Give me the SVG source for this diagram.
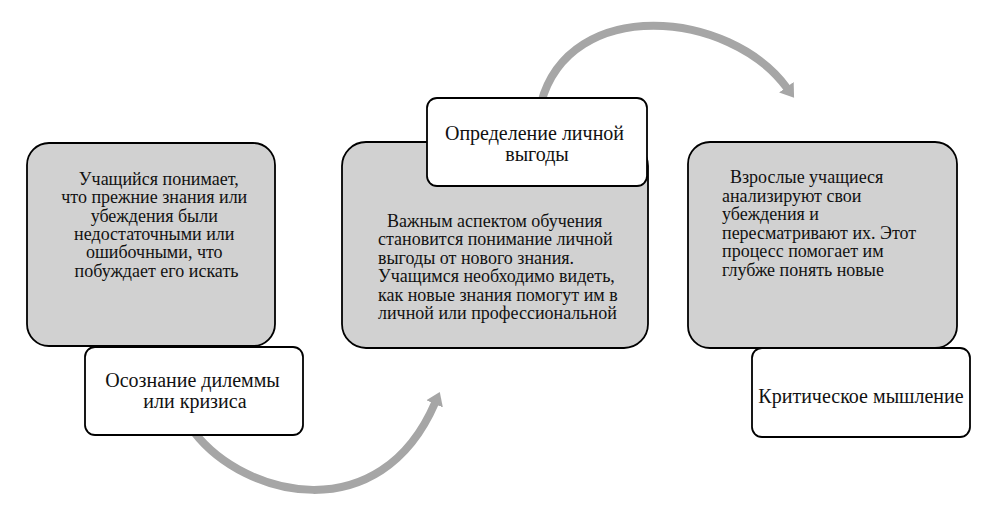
<svg xmlns="http://www.w3.org/2000/svg" width="1004" height="505" viewBox="0 0 1004 505">
  <style>
    .card { fill: #d1d1d1; stroke: #000; stroke-width: 1.8; }
    .label { fill: #fff; stroke: #000; stroke-width: 1.8; }
    .txt { font-family: "Liberation Serif", "Times New Roman", serif; font-size: 18px; fill: #111; }
    .lbl { font-family: "Liberation Serif", "Times New Roman", serif; font-size: 20px; fill: #111; text-anchor: middle; }
    .arrow { fill: none; stroke: #a6a6a6; stroke-width: 8; marker-end: url(#head); }
  </style>
  <defs>
    <marker id="head" markerUnits="userSpaceOnUse" viewBox="0 0 14 20" markerWidth="14" markerHeight="20" refX="1" refY="10" orient="auto">
      <path d="M0,1 L13,10 L0,19 Z" fill="#a6a6a6"/>
    </marker>
  </defs>
  <rect width="1004" height="505" fill="#fff"/>

  <g id="connectors">
    <path class="arrow" d="M194,432 C245,498 380,530 435,403"/>
    <path class="arrow" d="M541,103 C570,-5 730,10 787,88"/>
  </g>

  <g id="node-dilemma">
    <rect class="card" x="27" y="143" width="248" height="203" rx="22"/>
    <text class="txt" text-anchor="middle">
      <tspan x="161" y="185">Учащийся понимает,</tspan>
      <tspan x="156.5" y="203.3">что прежние знания или</tspan>
      <tspan x="156.5" y="221.6">убеждения были</tspan>
      <tspan x="156.5" y="239.9">недостаточными или</tspan>
      <tspan x="156.5" y="258.2">ошибочными, что</tspan>
      <tspan x="156.5" y="276.5">побуждает его искать</tspan>
    </text>
    <rect class="label" x="85" y="347" width="218" height="88" rx="10"/>
    <text class="lbl">
      <tspan x="195" y="387">Осознание дилеммы</tspan>
      <tspan x="195" y="408">или кризиса</tspan>
    </text>
  </g>

  <g id="node-benefit">
    <rect class="card" x="342" y="142" width="306" height="206" rx="24"/>
    <text class="txt">
      <tspan x="387" y="226.5">Важным аспектом обучения</tspan>
      <tspan x="378" y="245">становится понимание личной</tspan>
      <tspan x="378" y="263.5">выгоды от нового знания.</tspan>
      <tspan x="378" y="282">Учащимся необходимо видеть,</tspan>
      <tspan x="378" y="300.5">как новые знания помогут им в</tspan>
      <tspan x="378" y="319">личной или профессиональной</tspan>
    </text>
    <rect class="label" x="427" y="98" width="220" height="88" rx="10"/>
    <text class="lbl">
      <tspan x="537" y="140">Определение личной</tspan>
      <tspan x="537" y="160.5">выгоды</tspan>
    </text>
  </g>

  <g id="node-critical">
    <rect class="card" x="688" y="142" width="269" height="206" rx="22"/>
    <text class="txt">
      <tspan x="730" y="183">Взрослые учащиеся</tspan>
      <tspan x="722" y="201.5">анализируют свои</tspan>
      <tspan x="722" y="220">убеждения и</tspan>
      <tspan x="722" y="238.5">пересматривают их. Этот</tspan>
      <tspan x="722" y="257">процесс помогает им</tspan>
      <tspan x="722" y="275.5">глубже понять новые</tspan>
    </text>
    <rect class="label" x="752" y="348" width="218" height="89" rx="10"/>
    <text class="lbl">
      <tspan x="861" y="403">Критическое мышление</tspan>
    </text>
  </g>
</svg>
